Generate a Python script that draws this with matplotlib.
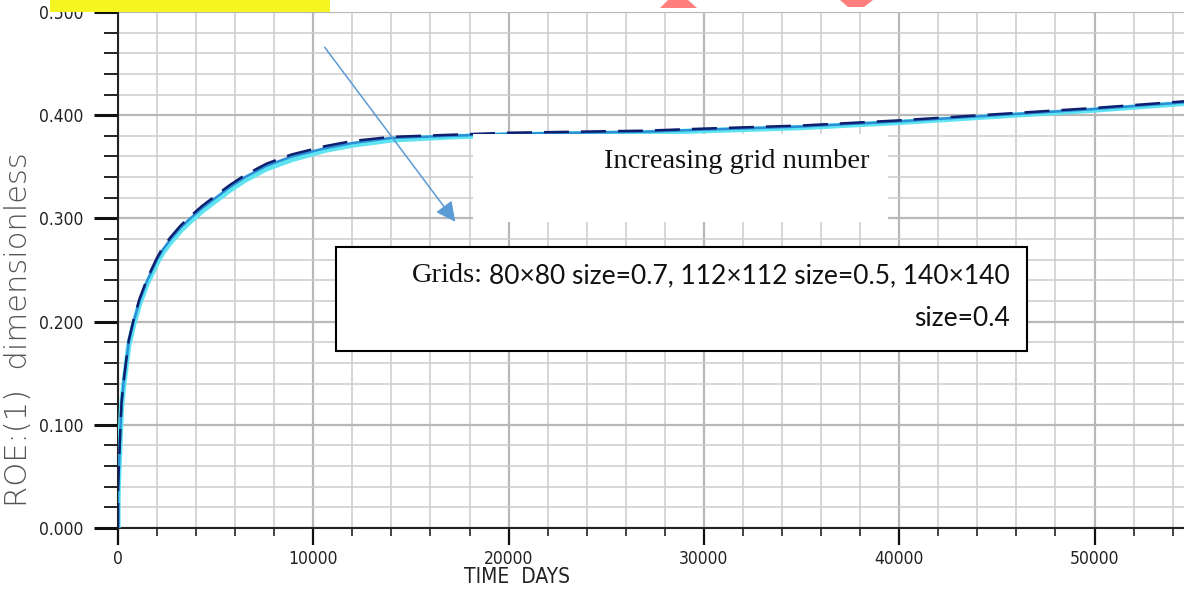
import matplotlib
matplotlib.use("Agg")
import matplotlib.pyplot as plt
from matplotlib.patches import Rectangle, Polygon, FancyArrowPatch
from matplotlib.ticker import MultipleLocator

# ---- data ----
time_days = [0, 5, 50, 133, 183, 283, 417, 550, 800, 1100, 1500, 2000, 2300, 2700,
             3200, 3700, 4300, 5000, 5700, 6500, 7600, 8900, 10600, 12000, 14000,
             17000, 20000, 27000, 30000, 35000, 40000, 45000, 50000, 55000]
roe_80 = [0.000, 0.040, 0.062, 0.102, 0.122, 0.142, 0.162, 0.182, 0.202, 0.222,
          0.242, 0.262, 0.272, 0.282, 0.293, 0.302, 0.312, 0.322, 0.332, 0.342,
          0.353, 0.362, 0.370, 0.375, 0.379, 0.381, 0.383, 0.385, 0.387, 0.390,
          0.395, 0.401, 0.407, 0.414]
roe_112 = [0.000, 0.038, 0.060, 0.100, 0.120, 0.140, 0.160, 0.180, 0.200, 0.220,
           0.240, 0.260, 0.270, 0.280, 0.291, 0.300, 0.310, 0.320, 0.330, 0.340,
           0.351, 0.360, 0.368, 0.373, 0.378, 0.380, 0.382, 0.384, 0.386, 0.389,
           0.394, 0.400, 0.406, 0.413]
roe_140 = [0.000, 0.035, 0.057, 0.097, 0.117, 0.137, 0.157, 0.177, 0.197, 0.217,
           0.237, 0.257, 0.267, 0.277, 0.288, 0.297, 0.307, 0.317, 0.327, 0.337,
           0.348, 0.357, 0.366, 0.371, 0.376, 0.379, 0.381, 0.383, 0.385, 0.388,
           0.393, 0.399, 0.405, 0.412]

x_ticks = [0, 10000, 20000, 30000, 40000, 50000]
y_ticks = [0.0, 0.1, 0.2, 0.3, 0.4, 0.5]

W, H = 1184, 590
fig = plt.figure(figsize=(W / 100, H / 100), dpi=100)
ax = fig.add_axes([118 / W, (H - 528) / H, (W - 118) / W, 516 / H])

narrow = dict(family=["DejaVu Sans"], fontstretch="condensed")

ax.plot(time_days, roe_140, color="#5ee3f0", lw=3.8, solid_capstyle="butt", zorder=3)
ax.plot(time_days, roe_112, color="#2a8fd6", lw=1.8, zorder=4)
ax.plot(time_days, roe_80, color="#0d1f6e", lw=1.8, dashes=(10, 4.8), zorder=5)

ax.set_xlim(0, 54580)
ax.set_ylim(0, 0.5)
ax.xaxis.set_minor_locator(MultipleLocator(2000))
ax.yaxis.set_minor_locator(MultipleLocator(0.02))
ax.set_xticks(x_ticks)
ax.set_xticklabels([str(v) for v in x_ticks])
ax.set_yticks(y_ticks)
ax.set_yticklabels(["%.3f" % v for v in y_ticks])

ax.grid(which="major", color="#b8b8b8", lw=1.6)
ax.grid(which="minor", color="#cccccc", lw=1.1)
ax.set_axisbelow(True)

for s in ["top", "right"]:
    ax.spines[s].set_visible(False)
for s in ["left", "bottom"]:
    ax.spines[s].set_color("#222222")
    ax.spines[s].set_linewidth(1.5)

ax.tick_params(axis="y", which="major", length=17, width=2.2, direction="out",
               color="#111111", pad=8, labelsize=12.5)
ax.tick_params(axis="y", which="minor", length=10, width=1.4, direction="out",
               color="#222222")
ax.tick_params(axis="x", which="major", length=12, width=1.6, direction="out",
               color="#111111", pad=4, labelsize=12.5)
ax.tick_params(axis="x", which="minor", length=6, width=1.2, direction="out",
               color="#222222")
for lab in ax.get_xticklabels() + ax.get_yticklabels():
    lab.set_family(narrow["family"])
    lab.set_fontstretch("condensed")
    lab.set_color("#222222")

ax.set_xlabel("TIME  DAYS", fontsize=15, color="#222222", labelpad=2, **narrow)
ax.xaxis.set_label_coords((517 - 118) / (W - 118), -0.075)
fig.text(19 / W, 1 - 330 / H, "ROE:(1)  dimensionless", rotation=90, ha="center",
         va="center", fontsize=22, color="#555555", family=["DejaVu Sans"],
         fontweight="light")

# ---- overlays (figure-pixel placed) ----
def px(x, y):
    return (x / W, 1 - y / H)

fig.patches.append(Rectangle(px(50, 12), 280 / W, 14 / H, transform=fig.transFigure,
                             facecolor="#f5f521", edgecolor="none", zorder=10))
fig.patches.append(Polygon([px(668, 0), px(688, 0), px(697, 8), px(660, 8)],
                           closed=True, transform=fig.transFigure,
                           facecolor="#ff7f7f", edgecolor="none", zorder=10))
fig.patches.append(Polygon([px(840, 0), px(873, 0), px(864, 7), px(848, 7)],
                           closed=True, transform=fig.transFigure,
                           facecolor="#ff7f7f", edgecolor="none", zorder=10))

# white box with "Increasing grid number"
fig.patches.append(Rectangle(px(473, 222), (888 - 473) / W, (222 - 134) / H,
                             transform=fig.transFigure, facecolor="white",
                             edgecolor="none", zorder=10))
fig.text(*px(870, 161), "Increasing grid number", ha="right", va="center",
         fontsize=20.5, family=["Liberation Serif"], color="#111111", zorder=11)

arrow = FancyArrowPatch(px(323, 45), px(457, 224), transform=fig.transFigure,
                        arrowstyle="-|>,head_length=8,head_width=4",
                        color="#5b9bd5", lw=1.1, zorder=12, mutation_scale=1.5)
fig.patches.append(arrow)

# bordered box with grid sizes
fig.patches.append(Rectangle(px(336, 351), (1027 - 336) / W, (351 - 247) / H,
                             transform=fig.transFigure, facecolor="white",
                             edgecolor="black", lw=1.5, zorder=10))
sans_body = ["Lato", "DejaVu Sans"]
t_rest = fig.text(*px(1010, 276), "80×80 size=0.7, 112×112 size=0.5, 140×140",
                  ha="right", va="center", fontsize=19, family=sans_body,
                  color="#111111", zorder=11)
fig.text(*px(1010, 319), "size=0.4", ha="right", va="center", fontsize=19,
         family=sans_body, color="#111111", zorder=11)
fig.canvas.draw()
ext = t_rest.get_window_extent()
fig.text((ext.x0 - 6) / W, 1 - 276 / H, "Grids:", ha="right", va="center",
         fontsize=20.5, family=["Liberation Serif"], color="#111111", zorder=11)

fig.savefig("out.png", dpi=100)
